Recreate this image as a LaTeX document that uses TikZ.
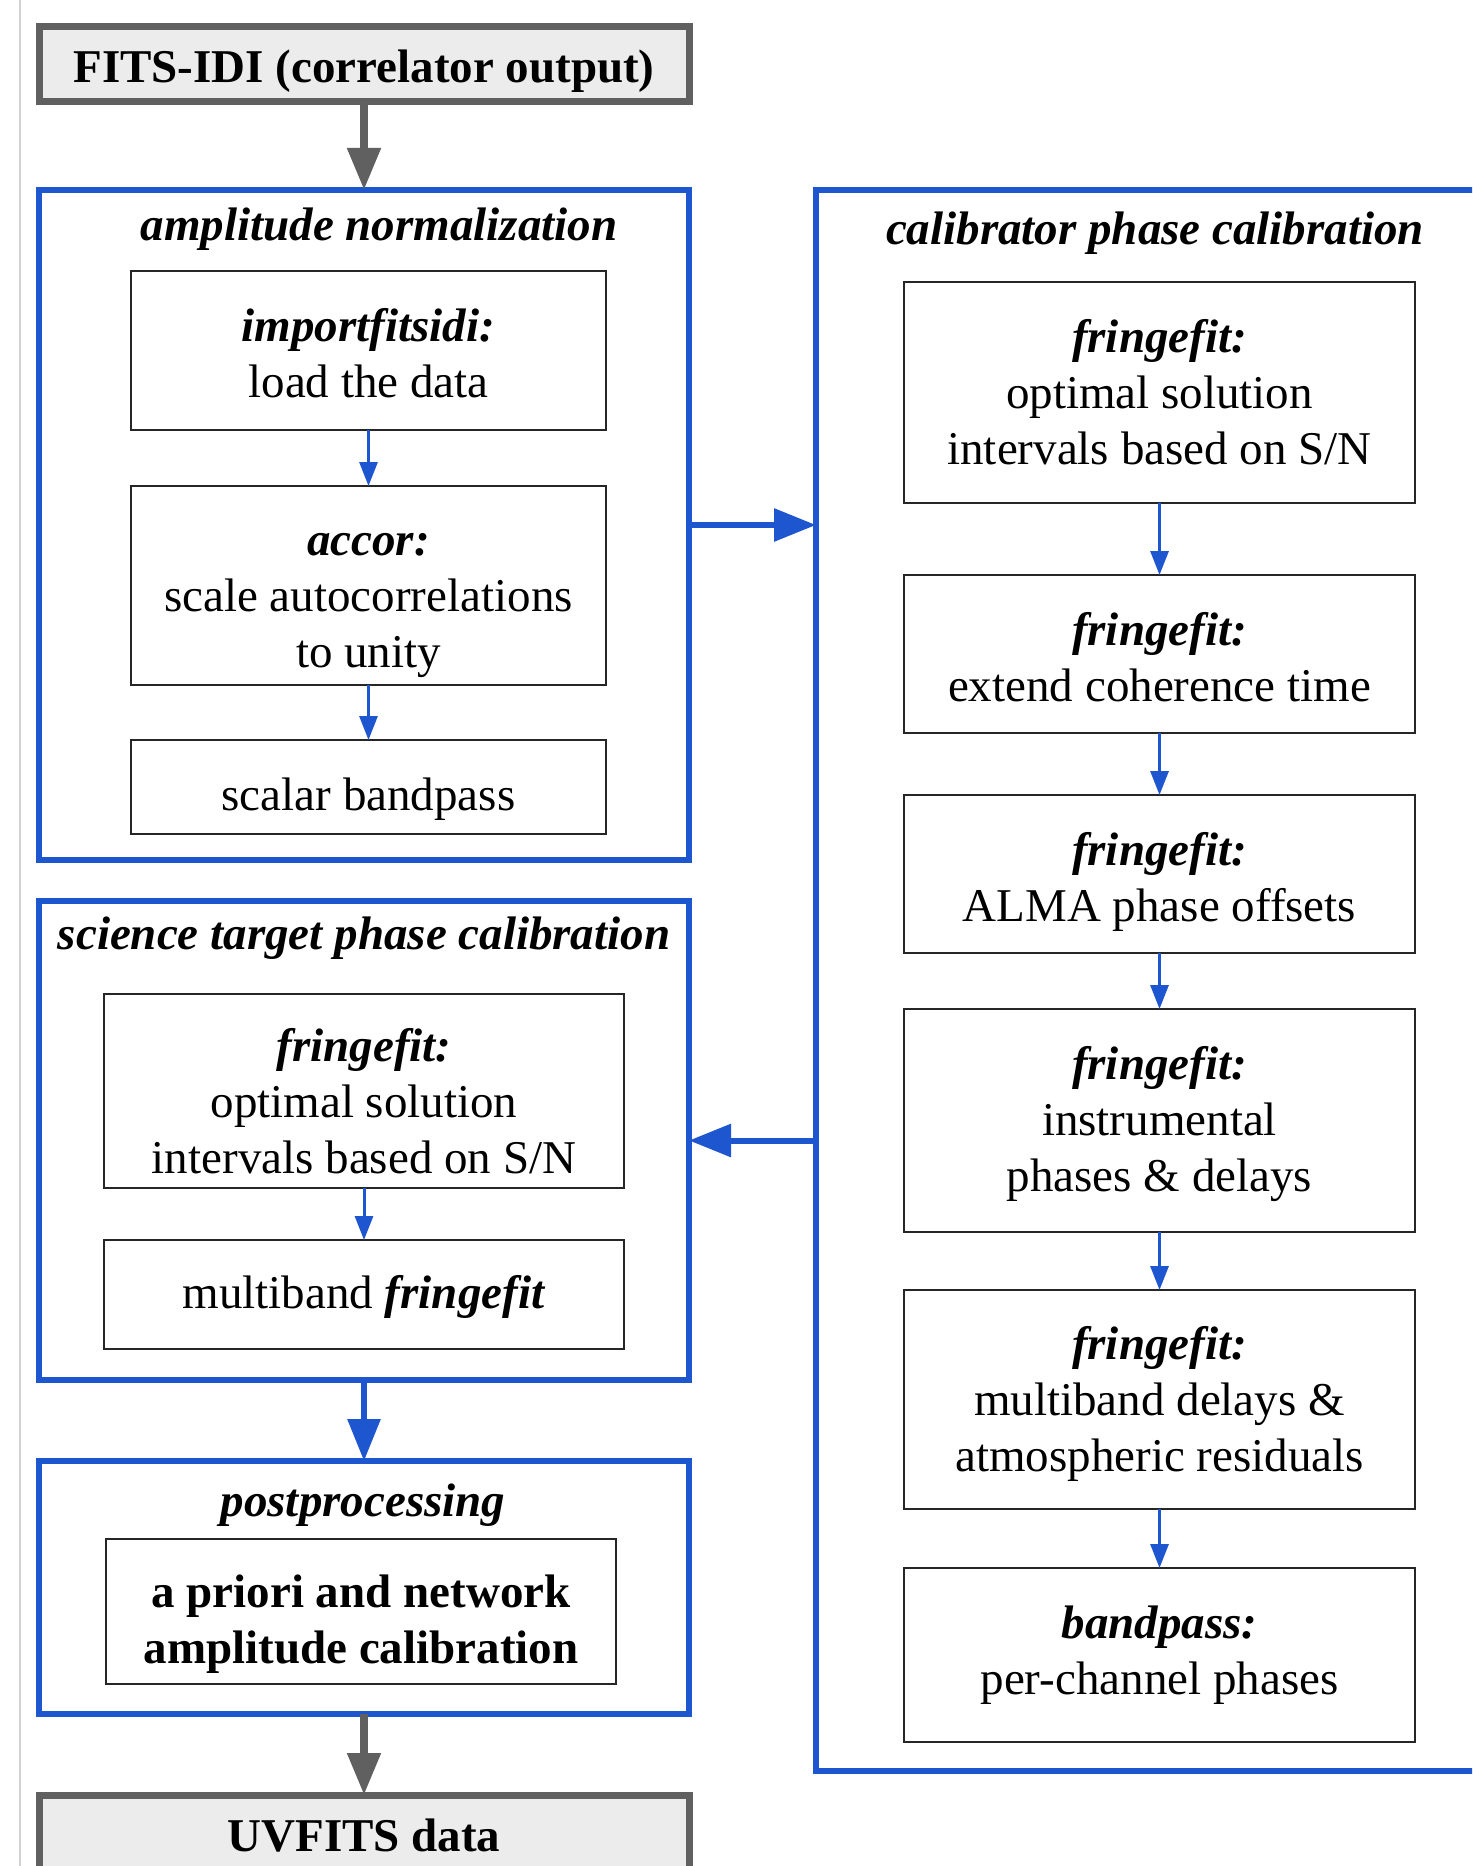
\documentclass[tikz,border=0pt]{standalone}
\usepackage{fontspec}
\setmainfont{Liberation Serif}
\usetikzlibrary{arrows.meta,calc}
\definecolor{flowblue}{RGB}{30,86,208}
\definecolor{iogray}{RGB}{96,96,96}
\definecolor{iofill}{RGB}{236,236,236}
\begin{document}
\begin{tikzpicture}[x=0.5pt,y=-0.5pt,
  every node/.style={font=\fontsize{23.5}{28}\selectfont, inner sep=0pt, outer sep=0pt},
  frame/.style={draw=flowblue, line width=3pt, rectangle},
  stepbox/.style={draw=black!85, line width=1.1pt, rectangle, fill=white},
  steptext/.style={align=center},
  iobox/.style={draw=iogray, fill=iofill, line width=3.5pt, rectangle},
  grouptitle/.style={font=\fontsize{23.5}{28}\selectfont\bfseries\itshape},
  flowthin/.style={draw=flowblue, line width=1.5pt, -{Triangle[length=12pt,width=9pt]}},
  flowthick/.style={draw=flowblue, line width=3pt, -{Triangle[length=21pt,width=16pt]}},
  flowgray/.style={draw=iogray, line width=4pt, -{Triangle[length=21pt,width=16pt]}},
]
\clip (0,0) rectangle (1472,1866);
\fill[white] (0,0) rectangle (1472,1866);
\draw[gray!35, line width=0.8pt] (20,0) -- (20,1866);

% input / output
\node[iobox, minimum width=325pt, minimum height=37.5pt] (fits) at (364,64.5) {};
\node[font=\fontsize{23.5}{28}\selectfont\bfseries] (fitsT) at ([yshift=-3.5pt]fits.center) {FITS-IDI (correlator output)};
\node[iobox, minimum width=325pt, minimum height=43pt] (uv) at (364,1838) {};
\node[font=\fontsize{23.5}{28}\selectfont\bfseries] (uvT) at ([yshift=1pt]uv.center) {UVFITS data};

% amplitude normalization
\node[frame, minimum width=325pt, minimum height=335pt] (amp) at (364,525) {};
\node[grouptitle] (ampT) at (379,229.5) {amplitude normalization};
\node[stepbox, minimum width=237.5pt, minimum height=79.5pt] (imp) at (368.5,350.5) {};
\node[steptext] (impT) at ([yshift=-1.2pt]imp.center) {\textbf{\textit{importfitsidi:}}\\load the data};
\node[stepbox, minimum width=237.5pt, minimum height=99.5pt] (acc) at (368.5,585.5) {};
\node[steptext] (accT) at ([yshift=-10pt]acc.center) {\textbf{\textit{accor:}}\\scale autocorrelations\\to unity};
\node[stepbox, minimum width=237.5pt, minimum height=47pt] (sbp) at (368.5,787) {};
\node[steptext] (sbpT) at ([yshift=-6pt]sbp.center) {scalar bandpass};

% science target phase calibration
\node[frame, minimum width=325pt, minimum height=239.5pt] (sci) at (364,1140.5) {};
\node[grouptitle] (sciT) at (364,938.5) {science target phase calibration};
\node[stepbox, minimum width=260pt, minimum height=97pt] (sff) at (364,1091) {};
\node[steptext] (sffT) at ([yshift=-5pt]sff.center) {\textbf{\textit{fringefit:}}\\optimal solution\\intervals based on S/N};
\node[stepbox, minimum width=260pt, minimum height=54.5pt] (smb) at (364,1294.5) {};
\node[steptext] (smbT) at ([yshift=-1.2pt]smb.center) {multiband \textbf{\textit{fringefit}}};

% postprocessing
\node[frame, minimum width=325pt, minimum height=126.5pt] (post) at (364,1587.5) {};
\node[grouptitle] (postT) at (363,1505.5) {postprocessing};
\node[stepbox, minimum width=255pt, minimum height=72.5pt] (amc) at (361,1611.5) {};
\node[steptext, font=\fontsize{23.5}{28}\selectfont\bfseries] (amcT) at ([yshift=-6.5pt]amc.center) {a priori and network\\amplitude calibration};

% calibrator phase calibration
\node[frame, minimum width=337pt, minimum height=790.5pt] (cal) at (1153,980.5) {};
\node[grouptitle] (calT) at (1155,233.5) {calibrator phase calibration};
\node[stepbox, minimum width=255.5pt, minimum height=110.5pt] (c1) at (1159.5,392.5) {};
\node[steptext] (c1T) at (c1.center) {\textbf{\textit{fringefit:}}\\optimal solution\\intervals based on S/N};
\node[stepbox, minimum width=255.5pt, minimum height=79pt] (c2) at (1159.5,654) {};
\node[steptext] (c2T) at ([yshift=-1.8pt]c2.center) {\textbf{\textit{fringefit:}}\\extend coherence time};
\node[stepbox, minimum width=255.5pt, minimum height=79pt] (c3) at (1159.5,874) {};
\node[steptext] (c3T) at ([yshift=-4pt]c3.center) {\textbf{\textit{fringefit:}}\\ALMA phase offsets};
\node[stepbox, minimum width=255.5pt, minimum height=111.5pt] (c4) at (1159.5,1120.5) {};
\node[steptext] (c4T) at ([yshift=-2pt]c4.center) {\textbf{\textit{fringefit:}}\\instrumental\\phases \& delays};
\node[stepbox, minimum width=255.5pt, minimum height=109.5pt] (c5) at (1159.5,1399.5) {};
\node[steptext] (c5T) at ([yshift=-2.3pt]c5.center) {\textbf{\textit{fringefit:}}\\multiband delays \&\\atmospheric residuals};
\node[stepbox, minimum width=255.5pt, minimum height=87pt] (c6) at (1159.5,1655) {};
\node[steptext] (c6T) at (c6.center) {\textbf{\textit{bandpass:}}\\per-channel phases};

% connectors
\draw[flowgray] (fits) -- (amp);
\draw[flowgray] (post) -- (uv);
\draw[flowthin] (imp) -- (acc);
\draw[flowthin] (acc) -- (sbp);
\draw[flowthin] (sff) -- (smb);
\draw[flowthick] (sci) -- (post);
\draw[flowthick] (amp.east) -- (amp.east -| cal.west);
\draw[flowthick] (sci.east -| cal.west) -- (sci.east);
\draw[flowthin] (c1) -- (c2);
\draw[flowthin] (c2) -- (c3);
\draw[flowthin] (c3) -- (c4);
\draw[flowthin] (c4) -- (c5);
\draw[flowthin] (c5) -- (c6);
\end{tikzpicture}
\end{document}
